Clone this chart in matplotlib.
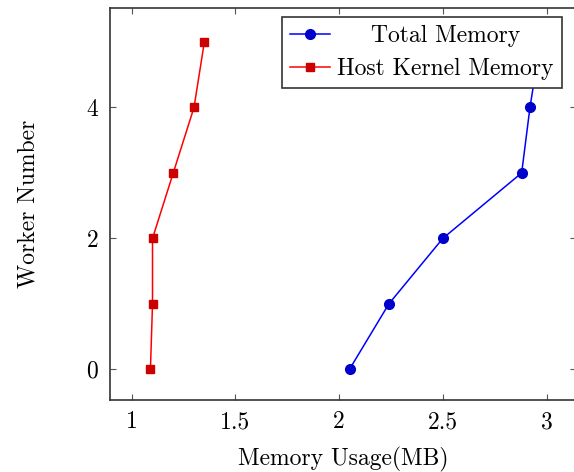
import matplotlib
matplotlib.use("Agg")
import matplotlib.pyplot as plt

# worker number vs memory usage
workers = [0, 1, 2, 3, 4, 5]
total_mem = [2.05, 2.24, 2.50, 2.88, 2.92, 2.97]
host_kernel_mem = [1.09, 1.10, 1.10, 1.20, 1.30, 1.35]
x_ticks = [1, 1.5, 2, 2.5, 3]
y_ticks = [0, 2, 4]

plt.rcParams['font.family'] = 'cmr10'
plt.rcParams['mathtext.fontset'] = 'cm'
plt.rcParams['axes.formatter.use_mathtext'] = True

fig = plt.figure(figsize=(5.74, 4.72), dpi=100)
ax = fig.add_axes([110 / 574, 72 / 472, 466 / 574, 392 / 472])

ax.plot(total_mem, workers, color='#0000ff', lw=1.1, marker='o', ms=7,
        markeredgecolor='#0000cc', markerfacecolor='#0000cc', label='Total Memory')
ax.plot(host_kernel_mem, workers, color='#ff0000', lw=1.1, marker='s', ms=6,
        markeredgecolor='#cc0000', markerfacecolor='#cc0000', label='Host Kernel Memory')

ax.set_xlim(0.895, 3.142)
ax.set_ylim(-0.47, 5.52)
ax.set_xticks(x_ticks)
ax.set_xticklabels(['1', '1.5', '2', '2.5', '3'])
ax.set_yticks(y_ticks)
ax.tick_params(direction='in', top=True, right=True, length=4, width=0.8,
               color='#555555', labelsize=17, pad=8)
for s in ax.spines.values():
    s.set_linewidth(1.2)
    s.set_color('#333333')

ax.set_xlabel('Memory Usage(MB)', fontsize=17, labelpad=10)
ax.set_ylabel('Worker Number', fontsize=17, labelpad=33)

leg = ax.legend(loc='upper right', bbox_to_anchor=(452 / 466, (472 - 17 - 72) / 392),
                fontsize=17, fancybox=False, framealpha=1, edgecolor='#333333',
                handlelength=1.7, handletextpad=0.3, borderpad=0.35, labelspacing=0.45,
                borderaxespad=0)
leg.get_frame().set_linewidth(1.2)

# center the first legend entry like the reference
fig.canvas.draw()
r = fig.canvas.get_renderer()
texts = leg.get_texts()
w0 = texts[0].get_window_extent(r).width
w1 = texts[1].get_window_extent(r).width
texts[0].set_x((w1 - w0) / 2)

fig.savefig('out.png', dpi=100)
